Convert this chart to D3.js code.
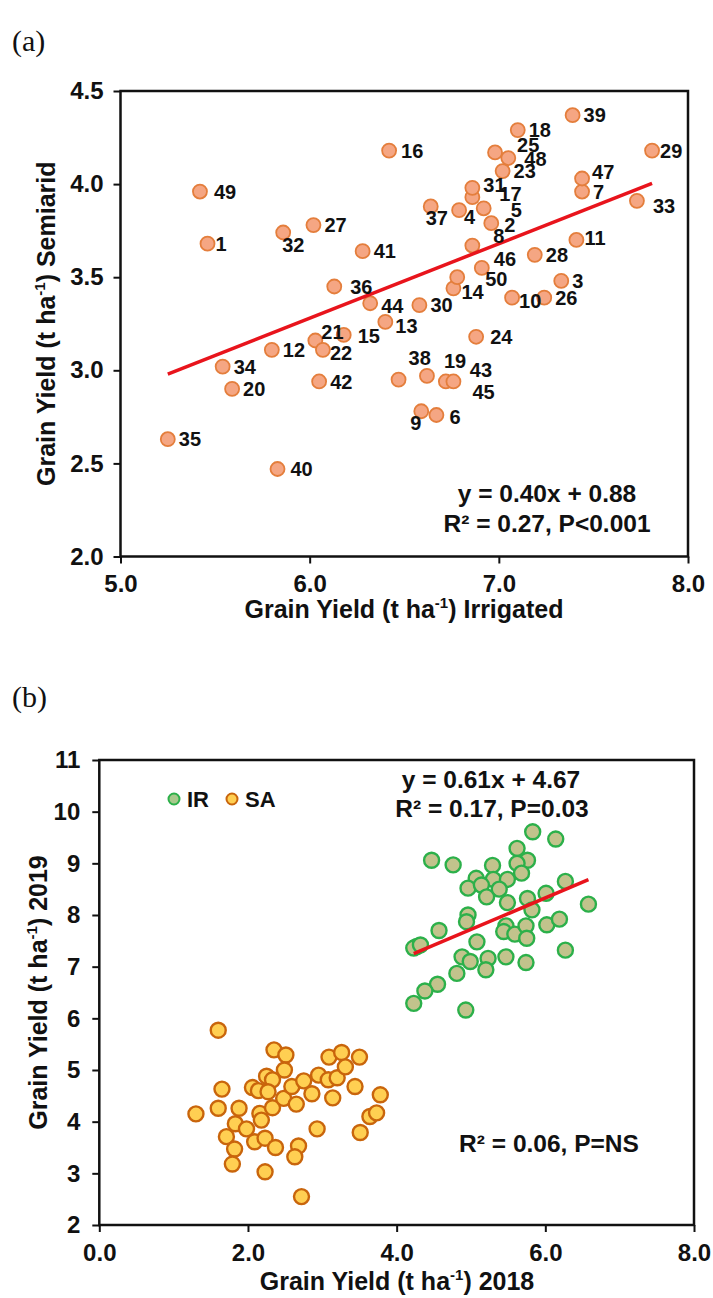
<!DOCTYPE html>
<html>
<head>
<meta charset="utf-8">
<script src="https://cdn.jsdelivr.net/npm/d3@7"></script>
<style>
  body { margin: 0; background: #fff; }
  text { font-family: "Liberation Sans", Arial, sans-serif; font-weight: bold; fill: #111; }
  .panel-tag { font-family: "Liberation Serif", "Times New Roman", serif; font-weight: normal; }
</style>
</head>
<body>
<div id="chart"></div>
<script>
// panel (a): genotype yields, irrigated vs semiarid
const genotypes = [1,2,3,4,5,6,7,8,9,10,11,12,13,14,15,16,17,18,19,20,21,22,23,24,25,
                   26,27,28,29,30,31,32,33,34,35,36,37,38,39,40,41,42,43,44,45,46,47,48,49,50];
const irrigated = [5.46,6.96,7.33,6.79,6.92,6.67,7.44,6.86,6.59,7.07,7.41,5.80,6.40,6.76,6.18,6.42,6.86,7.10,6.62,5.59,
                   6.03,6.07,7.02,6.88,6.98,7.24,6.02,7.19,7.81,6.58,6.86,5.86,7.73,5.54,5.25,6.13,6.64,6.47,7.39,5.83,
                   6.28,6.05,6.72,6.32,6.76,6.91,7.44,7.05,5.42,6.78];
const semiarid = [3.68,3.79,3.48,3.86,3.87,2.76,3.96,3.67,2.78,3.39,3.70,3.11,3.26,3.44,3.19,4.18,3.93,4.29,2.97,2.90,
                  3.16,3.11,4.07,3.18,4.17,3.39,3.78,3.62,4.18,3.35,3.98,3.74,3.91,3.02,2.63,3.45,3.88,2.95,4.37,2.47,
                  3.64,2.94,2.94,3.36,2.94,3.55,4.03,4.14,3.96,3.50];
const fitA = { slope: 0.40, intercept: 0.88 };

// panel (b): 2018 vs 2019 yields
const ir2018 = [5.83,6.14,4.47,4.76,5.62,5.76,5.62,5.29,5.68,5.07,5.30,5.49,4.96,5.14,5.38,5.21,6.27,6.01,5.49,5.76,
                5.82,6.58,4.96,4.94,4.57,4.27,4.23,4.32,5.47,5.44,5.59,5.74,5.75,6.02,6.19,5.08,4.88,4.99,5.23,5.47,
                5.20,5.74,6.27,4.81,4.55,4.38,4.23,4.93];
const ir2019 = [9.61,9.47,9.06,8.97,9.29,9.06,9.00,8.96,8.81,8.71,8.69,8.69,8.52,8.58,8.50,8.35,8.65,8.42,8.24,8.32,
                8.10,8.21,8.00,7.87,7.70,7.39,7.36,7.42,7.79,7.68,7.63,7.79,7.55,7.81,7.92,7.48,7.19,7.10,7.16,7.19,
                6.94,7.08,7.32,6.87,6.66,6.53,6.29,6.16];
const sa2018 = [1.60,1.30,1.65,1.60,1.88,1.83,1.71,1.82,1.79,1.98,2.09,2.23,2.37,2.23,2.06,2.14,2.16,2.18,2.33,2.35,
                2.51,2.49,2.25,2.33,2.27,2.48,2.59,2.65,2.68,2.63,2.72,2.75,2.86,2.95,2.93,3.09,3.08,3.14,3.20,3.26,
                3.31,3.50,3.44,3.51,3.64,3.73,3.78];
const sa2019 = [5.77,4.15,4.63,4.26,4.26,3.96,3.71,3.47,3.18,3.86,3.61,3.68,3.50,3.03,4.66,4.60,4.16,4.03,4.27,5.39,
                5.29,5.00,4.88,4.81,4.58,4.45,4.68,4.34,3.53,3.32,2.55,4.79,4.54,4.90,3.86,5.25,4.81,4.46,4.85,5.34,
                5.06,5.25,4.68,3.79,4.10,4.17,4.52];
const fitIR = { slope: 0.61, intercept: 4.67 };

// label nudges for panel (a): [dx to text start, dy of text centre]
const labelNudge = {
  1:[8,0], 2:[13,2], 4:[5,7], 5:[27,1], 8:[21,-10], 9:[-11,12], 10:[7,3], 11:[8,-2], 13:[10,4], 14:[8,3],
  15:[14,1], 16:[12,0], 17:[27,-3], 19:[17,-15], 21:[6,-9], 22:[7,3], 25:[22,-8], 29:[8,0], 31:[11,-3],
  32:[-1,12], 33:[16,5], 37:[-5,11], 38:[10,-22], 43:[24,-12], 44:[11,3], 45:[19,10], 46:[12,-9],
  47:[10,-7], 48:[16,1], 49:[14,0], 50:[28,2], 36:[16,0], 24:[14,0], 40:[13,0], 6:[13,2]
};

const svg = d3.select("#chart").append("svg")
  .attr("width", 713).attr("height", 1298)
  .style("background", "#fff");

function yieldTitle(sel, suffix) {
  sel.append("tspan").text("Grain Yield (t ha");
  sel.append("tspan").attr("dy", -10).style("font-size", "15px").text("-1");
  sel.append("tspan").attr("dy", 10).text(") " + suffix);
}

function frame(x, y, xTicks, yTicks, fmtY, padY) {
  const [x0, x1] = x.range(), [y0, y1] = y.range();
  const xAxis = svg.append("g").attr("transform", `translate(0,${y0})`)
    .call(d3.axisBottom(x).tickValues(xTicks).tickFormat(d3.format(".1f")).tickSize(7).tickSizeOuter(0).tickPadding(8));
  const yAxis = svg.append("g").attr("transform", `translate(${x0},0)`)
    .call(d3.axisLeft(y).tickValues(yTicks).tickFormat(fmtY).tickSize(7).tickSizeOuter(0).tickPadding(padY));
  [xAxis, yAxis].forEach(g => {
    g.select(".domain").remove();
    g.selectAll("line").attr("stroke", "#111").attr("stroke-width", 2);
    g.selectAll("text").style("font-size", "24px").attr("fill", "#111")
      .style("font-family", "'Liberation Sans', Arial, sans-serif").style("font-weight", "bold");
  });
  xAxis.selectAll("text").attr("dy", "0.86em");
  svg.append("rect")
    .attr("x", x0).attr("y", y1).attr("width", x1 - x0).attr("height", y0 - y1)
    .attr("fill", "none").attr("stroke", "#111").attr("stroke-width", 2.5);
}

// ---------- panel (a) ----------
const xA = d3.scaleLinear().domain([5, 8]).range([120.5, 688]);
const yA = d3.scaleLinear().domain([2, 4.5]).range([556.5, 91]);

svg.append("text").attr("class", "panel-tag").attr("x", 12).attr("y", 51)
  .style("font-size", "30px").text("(a)");

frame(xA, yA, [5, 6, 7, 8], [2, 2.5, 3, 3.5, 4, 4.5], d3.format(".1f"), 10);

const dataA = genotypes.map((g, i) => ({ id: g, x: irrigated[i], y: semiarid[i] }));
const xMinA = d3.min(irrigated), xMaxA = d3.max(irrigated);

svg.append("g").selectAll("circle").data(dataA).join("circle")
  .attr("cx", d => xA(d.x)).attr("cy", d => yA(d.y)).attr("r", 7)
  .attr("fill", "#f5a683").attr("stroke", "#e47e3c").attr("stroke-width", 1.8);

svg.append("line")
  .attr("x1", xA(xMinA)).attr("y1", yA(fitA.slope * xMinA + fitA.intercept))
  .attr("x2", xA(xMaxA)).attr("y2", yA(fitA.slope * xMaxA + fitA.intercept))
  .attr("stroke", "#e8141c").attr("stroke-width", 3.5);

svg.append("g").selectAll("text").data(dataA).join("text")
  .attr("x", d => xA(d.x) + (labelNudge[d.id] ? labelNudge[d.id][0] : 11))
  .attr("y", d => yA(d.y) + (labelNudge[d.id] ? labelNudge[d.id][1] : 0))
  .attr("dy", "0.36em")
  .style("font-size", "20px")
  .text(d => d.id);

svg.append("text").attr("x", 547).attr("y", 502).attr("text-anchor", "middle")
  .style("font-size", "24.5px").text("y = 0.40x + 0.88");
svg.append("text").attr("x", 547).attr("y", 532).attr("text-anchor", "middle")
  .style("font-size", "24.5px").text("R² = 0.27, P<0.001");

svg.append("text").attr("x", 404).attr("y", 618).attr("text-anchor", "middle")
  .style("font-size", "25px").call(yieldTitle, "Irrigated");
svg.append("text").attr("transform", `translate(55,${(91 + 556.5) / 2}) rotate(-90)`)
  .attr("text-anchor", "middle").style("font-size", "25px").call(yieldTitle, "Semiarid");

// ---------- panel (b) ----------
const xB = d3.scaleLinear().domain([0, 8]).range([99.3, 694]);
const yB = d3.scaleLinear().domain([2, 11]).range([1225, 760]);

svg.append("text").attr("class", "panel-tag").attr("x", 12).attr("y", 707)
  .style("font-size", "30px").text("(b)");

frame(xB, yB, [0, 2, 4, 6, 8], d3.range(2, 12), d3.format("d"), 12);

const dataIR = ir2018.map((v, i) => ({ x: v, y: ir2019[i] }));
const dataSA = sa2018.map((v, i) => ({ x: v, y: sa2019[i] }));

svg.append("g").selectAll("circle").data(dataSA).join("circle")
  .attr("cx", d => xB(d.x)).attr("cy", d => yB(d.y)).attr("r", 7.5)
  .attr("fill", "#ffcf52").attr("stroke", "#c9650c").attr("stroke-width", 2.4);

svg.append("g").selectAll("circle").data(dataIR).join("circle")
  .attr("cx", d => xB(d.x)).attr("cy", d => yB(d.y)).attr("r", 7.5)
  .attr("fill", "#c2c38c").attr("stroke", "#2cb04a").attr("stroke-width", 2.4);

const xMinIR = d3.min(ir2018), xMaxIR = d3.max(ir2018);
svg.append("line")
  .attr("x1", xB(xMinIR)).attr("y1", yB(fitIR.slope * xMinIR + fitIR.intercept))
  .attr("x2", xB(xMaxIR)).attr("y2", yB(fitIR.slope * xMaxIR + fitIR.intercept))
  .attr("stroke", "#e8141c").attr("stroke-width", 3.5);

// legend
const legend = [
  { name: "IR", fill: "#a8c98c", stroke: "#2cb04a", x: 174 },
  { name: "SA", fill: "#ffcf52", stroke: "#c9650c", x: 232 }
];
const lg = svg.append("g").selectAll("g").data(legend).join("g")
  .attr("transform", d => `translate(${d.x},799)`);
lg.append("circle").attr("r", 5.5).attr("fill", d => d.fill).attr("stroke", d => d.stroke).attr("stroke-width", 2);
lg.append("text").attr("x", 13).attr("y", 8).style("font-size", "22px").text(d => d.name);

svg.append("text").attr("x", 491).attr("y", 788).attr("text-anchor", "middle")
  .style("font-size", "24.5px").text("y = 0.61x + 4.67");
svg.append("text").attr("x", 492).attr("y", 817).attr("text-anchor", "middle")
  .style("font-size", "24.5px").text("R² = 0.17, P=0.03");
svg.append("text").attr("x", 549).attr("y", 1152).attr("text-anchor", "middle")
  .style("font-size", "24.5px").text("R² = 0.06, P=NS");

svg.append("text").attr("x", 397).attr("y", 1290).attr("text-anchor", "middle")
  .style("font-size", "25px").call(yieldTitle, "2018");
svg.append("text").attr("transform", `translate(47,${(760 + 1225) / 2}) rotate(-90)`)
  .attr("text-anchor", "middle").style("font-size", "25px").call(yieldTitle, "2019");
</script>
</body>
</html>
